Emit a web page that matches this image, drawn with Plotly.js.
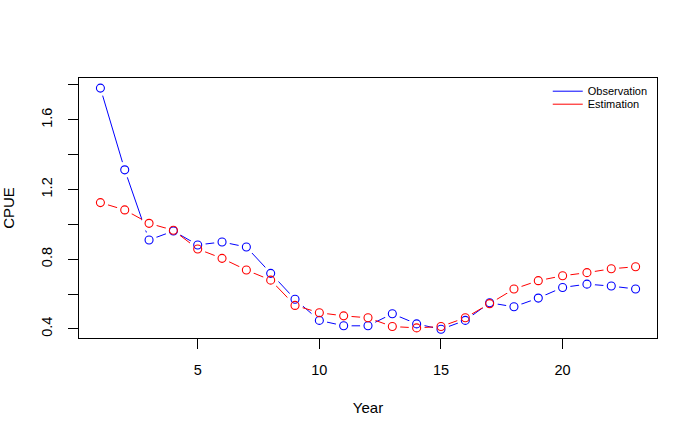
<!DOCTYPE html>
<html>
<head>
<meta charset="utf-8">
<script src="https://cdn.plot.ly/plotly-3.0.1.min.js"></script>
<style>html,body{margin:0;padding:0;background:#fff;}#chart{width:695px;height:437px;}</style>
</head>
<body>
<div id="chart"></div>
<script>
var years = [1,2,3,4,5,6,7,8,9,10,11,12,13,14,15,16,17,18,19,20,21,22,23];
var observation = [1.782,1.313,0.910,0.962,0.882,0.899,0.870,0.719,0.570,0.449,0.418,0.418,0.487,0.429,0.398,0.449,0.550,0.527,0.577,0.638,0.657,0.646,0.629];
var estimation = [1.125,1.083,1.006,0.966,0.859,0.805,0.738,0.680,0.535,0.493,0.475,0.464,0.414,0.406,0.414,0.464,0.545,0.629,0.677,0.705,0.723,0.745,0.757];
var yTickVals = [0.4,0.6,0.8,1.0,1.2,1.4,1.6,1.8];
var yTickText = ['0.4','','0.8','','1.2','','1.6',''];
var xTickVals = [5,10,15,20];

var BLUE = '#0000FF', RED = '#FF0000';
var FONT = 'Liberation Sans, Arial, Helvetica, sans-serif';

var traces = [
  {x: years, y: observation, mode: 'lines', line: {color: BLUE, width: 1}, showlegend: false, hoverinfo: 'skip'},
  {x: years, y: estimation, mode: 'lines', line: {color: RED, width: 1}, showlegend: false, hoverinfo: 'skip'},
  {x: years, y: observation, mode: 'markers', marker: {symbol: 'circle', size: 16, color: '#ffffff', line: {width: 0}}, showlegend: false, hoverinfo: 'skip'},
  {x: years, y: estimation, mode: 'markers', marker: {symbol: 'circle', size: 16, color: '#ffffff', line: {width: 0}}, showlegend: false, hoverinfo: 'skip'},
  {x: years, y: observation, mode: 'markers', marker: {symbol: 'circle-open', size: 8, color: BLUE, line: {width: 1.1, color: BLUE}}, showlegend: false},
  {x: years, y: estimation, mode: 'markers', marker: {symbol: 'circle-open', size: 8, color: RED, line: {width: 1.1, color: RED}}, showlegend: false},
  {x: [null], y: [null], mode: 'lines', name: 'Observation', line: {color: BLUE, width: 1}, legend: 'legend'},
  {x: [null], y: [null], mode: 'lines', name: 'Estimation', line: {color: RED, width: 1}, legend: 'legend2'}
];

var legendBase = {x: 0.811, xanchor: 'left', yanchor: 'top', bgcolor: 'rgba(0,0,0,0)', borderwidth: 0,
                  font: {size: 11, family: FONT, color: '#000'}, itemwidth: 30};

var layout = {
  width: 695, height: 437,
  margin: {l: 78.5, r: 37.7, t: 78.3, b: 99.3, pad: 0},
  paper_bgcolor: '#fff', plot_bgcolor: '#fff',
  font: {family: FONT, color: '#000', size: 14},
  showlegend: true,
  legend: Object.assign({}, legendBase, {y: 1.005}),
  legend2: Object.assign({}, legendBase, {y: 0.955}),
  xaxis: {
    range: [0.12, 23.88], tickmode: 'array', tickvals: xTickVals, ticktext: xTickVals.map(String),
    showgrid: false, zeroline: false, showline: true, mirror: true, linecolor: '#000', linewidth: 1,
    ticks: 'outside', ticklen: 10, tickwidth: 1, tickcolor: '#000', ticklabelstandoff: 9,
    tickfont: {size: 14.5, family: FONT},
    title: {text: 'Year', font: {size: 15, family: FONT}, standoff: 25}
  },
  yaxis: {
    range: [0.348, 1.84], tickmode: 'array', tickvals: yTickVals, ticktext: yTickText,
    showgrid: false, zeroline: false, showline: true, mirror: true, linecolor: '#000', linewidth: 1,
    ticks: 'outside', ticklen: 10, tickwidth: 1, tickcolor: '#000', tickangle: -90, ticklabelstandoff: 10,
    tickfont: {size: 14.5, family: FONT},
    title: {text: 'CPUE', font: {size: 15, family: FONT}, standoff: 25}
  }
};

Plotly.newPlot('chart', traces, layout, {displayModeBar: false, staticPlot: true});
</script>
</body>
</html>
